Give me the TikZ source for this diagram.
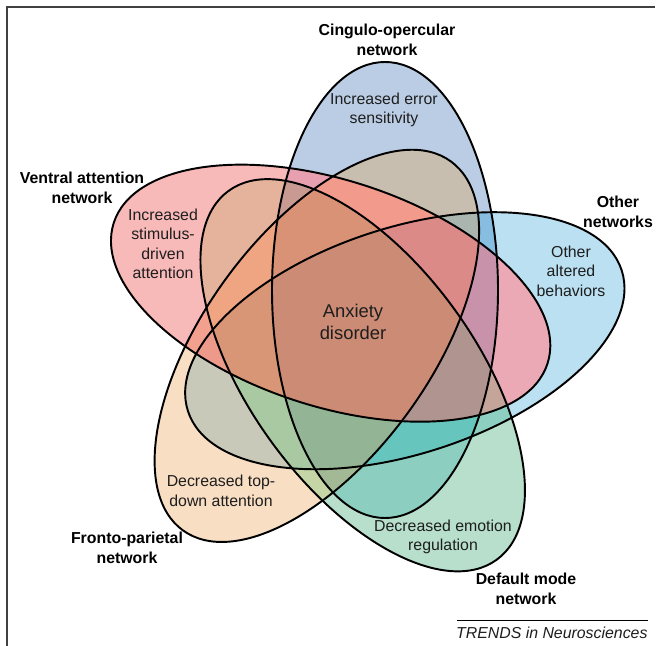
\documentclass[tikz,border=0pt]{standalone}
\usepackage{fontspec}
\setmainfont{Liberation Sans}
\usepackage{tikz}
\tikzset{every picture/.style={line width=0.75pt}}

% region colours: B cingulo-opercular, T other, G default mode, F fronto-parietal, P ventral
\definecolor{rB}{HTML}{BBCDE4}
\definecolor{rT}{HTML}{BAE0F2}
\definecolor{rG}{HTML}{B7DFCB}
\definecolor{rF}{HTML}{F8DEC3}
\definecolor{rP}{HTML}{F8B9B9}
\definecolor{rBT}{HTML}{86BDE0}
\definecolor{rBG}{HTML}{8CCFC0}
\definecolor{rBF}{HTML}{C8BEAF}
\definecolor{rBP}{HTML}{E8A0B0}
\definecolor{rTG}{HTML}{8DD0C2}
\definecolor{rTF}{HTML}{C8C9B8}
\definecolor{rTP}{HTML}{EBA9B6}
\definecolor{rGF}{HTML}{C6D5A5}
\definecolor{rGP}{HTML}{E5B29C}
\definecolor{rFP}{HTML}{F4A08E}
\definecolor{rBTG}{HTML}{66C6BE}
\definecolor{rBTF}{HTML}{A9B5AE}
\definecolor{rBTP}{HTML}{C893AA}
\definecolor{rBGF}{HTML}{A3B995}
\definecolor{rBGP}{HTML}{C99A92}
\definecolor{rBFP}{HTML}{F29A8C}
\definecolor{rTGF}{HTML}{A9C9A2}
\definecolor{rTGP}{HTML}{C5A59A}
\definecolor{rTFP}{HTML}{EE9A8B}
\definecolor{rGFP}{HTML}{EFA582}
\definecolor{rBTGF}{HTML}{94B595}
\definecolor{rBTGP}{HTML}{B0948F}
\definecolor{rBTFP}{HTML}{DC8A88}
\definecolor{rBGFP}{HTML}{D99275}
\definecolor{rTGFP}{HTML}{D89677}
\definecolor{rAll}{HTML}{CB8B74}
\definecolor{txtgrey}{HTML}{1E1E1E}
\definecolor{framegrey}{HTML}{404040}

\tikzset{
  netline/.style={draw=black, line width=1.45pt},
  netlabel/.style={font=\fontsize{11.9}{14.6}\selectfont\bfseries, align=center, text=black},
  effect/.style={font=\fontsize{11.9}{14.6}\selectfont, align=center, text=txtgrey},
  anxiety/.style={font=\fontsize{13.8}{16.5}\selectfont, align=center, text=txtgrey},
  credit/.style={font=\fontsize{11.9}{14.6}\selectfont\itshape, text=txtgrey, inner sep=0pt},
}

\begin{document}
\begin{tikzpicture}[x=0.75pt,y=0.75pt,yscale=-1,xscale=1]
\useasboundingbox (0,0) rectangle (661,646);
\fill[white] (0,0) rectangle (661,646);

%Frame
\draw[framegrey, line width=1.1pt] (655,7) -- (7,7) -- (7,646);

%Regions: each set of networks filled on top of the smaller sets
\foreach \sets/\shade in {
    {0}/rB, {1}/rT, {2}/rG, {3}/rF, {4}/rP,
    {0,1}/rBT, {0,2}/rBG, {0,3}/rBF, {0,4}/rBP, {1,2}/rTG,
    {1,3}/rTF, {1,4}/rTP, {2,3}/rGF, {2,4}/rGP, {3,4}/rFP,
    {0,1,2}/rBTG, {0,1,3}/rBTF, {0,1,4}/rBTP, {0,2,3}/rBGF, {0,2,4}/rBGP,
    {0,3,4}/rBFP, {1,2,3}/rTGF, {1,2,4}/rTGP, {1,3,4}/rTFP, {2,3,4}/rGFP,
    {0,1,2,3}/rBTGF, {0,1,2,4}/rBTGP, {0,1,3,4}/rBTFP, {0,2,3,4}/rBGFP, {1,2,3,4}/rTGFP,
    {0,1,2,3,4}/rAll} {
  \begin{scope}
    \foreach \s in \sets {
      \clip[rotate around={72*\s:(360,329)}] (385,290) ellipse [x radius=113, y radius=228];
    }
    \fill[\shade] (0,0) rectangle (661,646);
  \end{scope}
}

%Shape: Ellipse outlines
\foreach \s in {0,...,4} {
  \draw[netline, rotate around={72*\s:(360,329)}] (385,290) ellipse [x radius=113, y radius=228];
}

%Network names
\node[netlabel] (cingulo) at (387,40) {Cingulo-opercular\\network};
\node[netlabel] (ventral) at (82,188) {Ventral attention\\network};
\node[netlabel] (othernet) at (618,212) {Other\\networks};
\node[netlabel] (fronto) at (127,548) {Fronto-parietal\\network};
\node[netlabel] (defaultmode) at (526,589) {Default mode\\network};

%Effects
\node[effect] (errsens) at (384,110) {Increased error\\sensitivity};
\node[effect] (stimdriven) at (163,244) {Increased\\stimulus-\\driven\\attention};
\node[effect] (altered) at (571,271) {Other\\altered\\behaviors};
\node[effect] (topdown) at (221,491) {Decreased top-\\down attention};
\node[effect] (emotion) at (443,537) {Decreased emotion\\regulation};
\node[anxiety] (disorder) at (353,322) {Anxiety\\disorder};

%Credit
\draw[black, line width=0.6pt] (457,620) -- (648,620);
\node[credit, anchor=base east] (trends) at (648,638) {TRENDS in Neurosciences};

\end{tikzpicture}
\end{document}
